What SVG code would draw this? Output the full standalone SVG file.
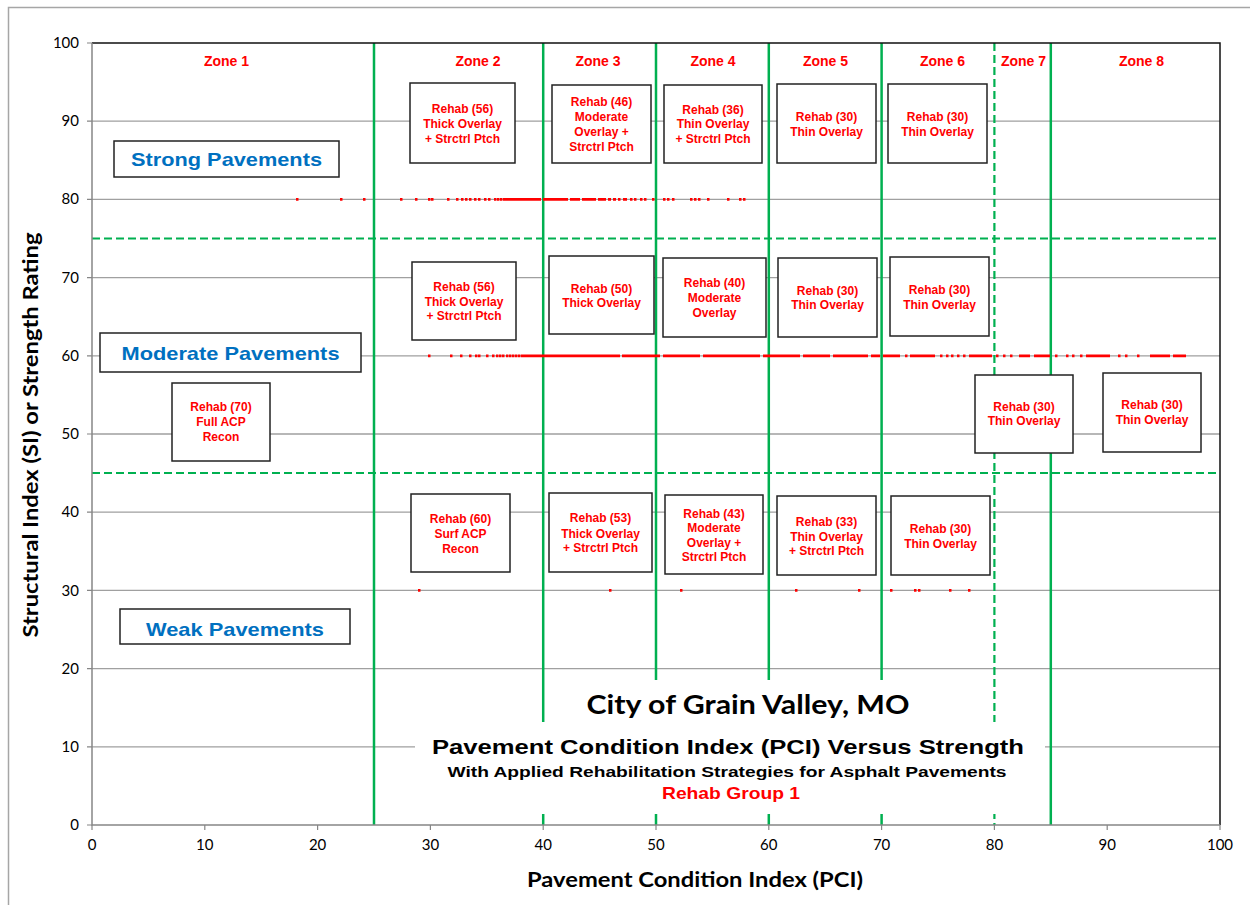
<svg xmlns="http://www.w3.org/2000/svg" width="1250" height="905" viewBox="0 0 1250 905">
<defs>
<style>
.grid{stroke:#A0A0A0;stroke-width:1.3;fill:none}
.zl{stroke:#00B050;stroke-width:2.5;fill:none}
.zd{stroke:#00B050;stroke-width:2.2;fill:none;stroke-dasharray:8 4}
.dots{stroke:#FF0000;stroke-width:2.8;fill:none}
.box{fill:#fff;stroke:#222;stroke-width:1.5}
.rt{font-family:"Liberation Sans",Arial,sans-serif;font-weight:bold;font-size:12px;fill:#FF0000;text-anchor:middle}
.zt{font-family:"Liberation Sans",Arial,sans-serif;font-weight:bold;font-size:14px;fill:#FF0000;text-anchor:middle}
.bt{font-family:"Liberation Sans",Arial,sans-serif;font-weight:bold;font-size:19px;fill:#0070C0;text-anchor:middle}
.tk{font-family:Lato,"Liberation Sans",sans-serif;font-size:15px;fill:#000}
.ax{font-family:Lato,"Liberation Sans",sans-serif;font-weight:bold;font-size:21px;fill:#000;text-anchor:middle}
.tt{font-family:"Liberation Sans",Arial,sans-serif;font-weight:bold;fill:#000;text-anchor:middle}
</style>
</defs>
<rect x="8.5" y="7.5" width="1260" height="920" fill="#fff" stroke="#A6A6A6" stroke-width="1.5"/>

<g id="gridlines">
<path class="grid" d="M92 121.2H1220M92 199.4H1220M92 277.6H1220M92 355.8H1220M92 434H1220M92 512.2H1220M92 590.4H1220M92 668.6H1220M92 746.8H1220"/>
</g>

<g id="connectors">
<path class="zl" d="M374 43V825M543.2 43V825M656 43V825M768.8 43V825M881.6 43V825M1050.8 43V825"/>
<path class="zd" d="M994.4 43V825"/>
<path class="zd" d="M92 238.5H1220M92 473H1220"/>
</g>

<g id="data">
<path class="dots" d="M296 199.4h2.5M340 199.4h2.5M363 199.4h2.5M400 199.4h2.5M415 199.4h2.5M428 199.4h2.5M431 199.4h2.5M447 199.4h2.5M456 199.4h2.5M461 199.4h2.5M465 199.4h2.5M469 199.4h2.5M474 199.4h2.5M478 199.4h2.5M484 199.4h2.5M488 199.4h2.5M494 199.4h2.5M497 199.4h2.5M500 199.4h2.5M503 199.4H541M543 199.4H568M570 199.4H580M582 199.4H596M598 199.4H606M608 199.4h3M613 199.4h3M618 199.4h2.5M623 199.4h4M630 199.4h2.5M634 199.4h2.5M640 199.4h2.5M644 199.4h2.5M652 199.4h2.5M663 199.4h2.5M667 199.4h2.5M672 199.4h2.5M690 199.4h2.5M694 199.4h2.5M698 199.4h2.5M707 199.4h2.5M727 199.4h2.5M739 199.4h2.5M743 199.4h2.5"/>
<path class="dots" d="M428 355.8h2.5M450 355.8h2.5M460 355.8h2.5M469 355.8h2.5M475 355.8h2.5M478 355.8h2.5M486 355.8h2.5M492 355.8h2.5M496 355.8h2.5M499 355.8h2.5M502 355.8h2.5M506 355.8h2.5M509 355.8h2.5M512 355.8h2.5M515 355.8h2.5M518 355.8h2.5M521 355.8H620M622 355.8H660M663 355.8H700M703 355.8H760M763 355.8H800M803 355.8H830M833 355.8H868M871 355.8H880M883 355.8H900M905 355.8h2.5M910 355.8H935M940 355.8h2.5M946 355.8h2.5M951 355.8h2.5M957 355.8h2.5M963 355.8h2.5M969 355.8H992M996 355.8h2.5M1003 355.8h2.5M1010 355.8h2.5M1019 355.8H1030M1034 355.8H1050M1055 355.8h2.5M1066 355.8h2.5M1072 355.8h2.5M1080 355.8h2.5M1086 355.8H1110M1118 355.8h2.5M1125 355.8h2.5M1137 355.8h2.5M1150 355.8H1170M1173 355.8H1186"/>
<path class="dots" d="M418 590.4h2.5M609 590.4h2.5M680 590.4h2.5M795 590.4h2.5M858 590.4h2.5M890 590.4h2.5M914 590.4h2.5M918 590.4h2.5M949 590.4h2.5M968 590.4h2.5"/>
</g>

<g id="axes">
<path d="M92 43H1220V825" fill="none" stroke="#111" stroke-width="1.5"/>
<path d="M92 43V825H1220" fill="none" stroke="#868686" stroke-width="1.5"/>
<path d="M87 43H92M87 121.2H92M87 199.4H92M87 277.6H92M87 355.8H92M87 434H92M87 512.2H92M87 590.4H92M87 668.6H92M87 746.8H92M87 825H92" stroke="#868686" stroke-width="1.2"/>
<path d="M92 825V830M204.8 825V830M317.6 825V830M430.4 825V830M543.2 825V830M656 825V830M768.8 825V830M881.6 825V830M994.4 825V830M1107.2 825V830M1220 825V830" stroke="#868686" stroke-width="1.2"/>
<g class="tk" text-anchor="end">
<text x="79" y="48">100</text><text x="79" y="126">90</text><text x="79" y="204">80</text><text x="79" y="283">70</text><text x="79" y="361">60</text><text x="79" y="439">50</text><text x="79" y="517">40</text><text x="79" y="596">30</text><text x="79" y="674">20</text><text x="79" y="752">10</text><text x="79" y="830">0</text>
</g>
<g class="tk" text-anchor="middle">
<text x="92" y="850">0</text><text x="204.8" y="850">10</text><text x="317.6" y="850">20</text><text x="430.4" y="850">30</text><text x="543.2" y="850">40</text><text x="656" y="850">50</text><text x="768.8" y="850">60</text><text x="881.6" y="850">70</text><text x="994.4" y="850">80</text><text x="1107.2" y="850">90</text><text x="1220" y="850">100</text>
</g>
<text class="ax" x="695" y="887" textLength="336" lengthAdjust="spacingAndGlyphs">Pavement Condition Index (PCI)</text>
<text class="ax" transform="translate(38 435) rotate(-90)" textLength="405" lengthAdjust="spacingAndGlyphs">Structural Index (SI) or Strength Rating</text>
</g>

<g id="zone-labels">
<text class="zt" x="226.5" y="66">Zone 1</text>
<text class="zt" x="478" y="66">Zone 2</text>
<text class="zt" x="598" y="66">Zone 3</text>
<text class="zt" x="713" y="66">Zone 4</text>
<text class="zt" x="825.5" y="66">Zone 5</text>
<text class="zt" x="942.5" y="66">Zone 6</text>
<text class="zt" x="1023.5" y="66">Zone 7</text>
<text class="zt" x="1141.5" y="66">Zone 8</text>
</g>

<g id="strong-pavements"><rect class="box" x="114" y="141" width="225" height="36"/><text class="bt" x="226.5" y="166" textLength="191" lengthAdjust="spacingAndGlyphs">Strong Pavements</text></g>
<g id="moderate-pavements"><rect class="box" x="100" y="333" width="261" height="39"/><text class="bt" x="230.5" y="360" textLength="218" lengthAdjust="spacingAndGlyphs">Moderate Pavements</text></g>
<g id="weak-pavements"><rect class="box" x="120" y="609" width="230" height="35"/><text class="bt" x="235" y="636" textLength="178" lengthAdjust="spacingAndGlyphs">Weak Pavements</text></g>

<g id="z2-strong"><rect class="box" x="410" y="83" width="105" height="80"/><text class="rt" x="462.5" y="113">Rehab (56)</text><text class="rt" x="462.5" y="128">Thick Overlay</text><text class="rt" x="462.5" y="143">+ Strctrl Ptch</text></g>
<g id="z3-strong"><rect class="box" x="552" y="85" width="99" height="78"/><text class="rt" x="601.5" y="106">Rehab (46)</text><text class="rt" x="601.5" y="121">Moderate</text><text class="rt" x="601.5" y="136">Overlay +</text><text class="rt" x="601.5" y="151">Strctrl Ptch</text></g>
<g id="z4-strong"><rect class="box" x="664" y="85" width="98" height="78"/><text class="rt" x="713" y="114">Rehab (36)</text><text class="rt" x="713" y="128">Thin Overlay</text><text class="rt" x="713" y="143">+ Strctrl Ptch</text></g>
<g id="z5-strong"><rect class="box" x="777" y="84" width="99" height="79"/><text class="rt" x="826.5" y="121">Rehab (30)</text><text class="rt" x="826.5" y="136">Thin Overlay</text></g>
<g id="z6-strong"><rect class="box" x="888" y="84" width="99" height="79"/><text class="rt" x="937.5" y="121">Rehab (30)</text><text class="rt" x="937.5" y="136">Thin Overlay</text></g>

<g id="z2-moderate"><rect class="box" x="412" y="262" width="104" height="78"/><text class="rt" x="464" y="291">Rehab (56)</text><text class="rt" x="464" y="306">Thick Overlay</text><text class="rt" x="464" y="320">+ Strctrl Ptch</text></g>
<g id="z3-moderate"><rect class="box" x="549" y="256" width="105" height="78"/><text class="rt" x="601.5" y="293">Rehab (50)</text><text class="rt" x="601.5" y="307">Thick Overlay</text></g>
<g id="z4-moderate"><rect class="box" x="663" y="258" width="103" height="79"/><text class="rt" x="714.5" y="287">Rehab (40)</text><text class="rt" x="714.5" y="302">Moderate</text><text class="rt" x="714.5" y="317">Overlay</text></g>
<g id="z5-moderate"><rect class="box" x="778" y="258" width="99" height="79"/><text class="rt" x="827.5" y="295">Rehab (30)</text><text class="rt" x="827.5" y="309">Thin Overlay</text></g>
<g id="z6-moderate"><rect class="box" x="890" y="257" width="99" height="79"/><text class="rt" x="939.5" y="294">Rehab (30)</text><text class="rt" x="939.5" y="309">Thin Overlay</text></g>
<g id="z7-moderate"><rect class="box" x="975" y="375" width="98" height="78"/><text class="rt" x="1024" y="411">Rehab (30)</text><text class="rt" x="1024" y="425">Thin Overlay</text></g>
<g id="z8-moderate"><rect class="box" x="1103" y="373" width="98" height="79"/><text class="rt" x="1152" y="409">Rehab (30)</text><text class="rt" x="1152" y="424">Thin Overlay</text></g>
<g id="z1-rehab"><rect class="box" x="172" y="383" width="98" height="78"/><text class="rt" x="221" y="411">Rehab (70)</text><text class="rt" x="221" y="426">Full ACP</text><text class="rt" x="221" y="441">Recon</text></g>

<g id="z2-weak"><rect class="box" x="411" y="494" width="99" height="78"/><text class="rt" x="460.5" y="523">Rehab (60)</text><text class="rt" x="460.5" y="538">Surf ACP</text><text class="rt" x="460.5" y="553">Recon</text></g>
<g id="z3-weak"><rect class="box" x="549" y="493" width="103" height="79"/><text class="rt" x="600.5" y="522">Rehab (53)</text><text class="rt" x="600.5" y="538">Thick Overlay</text><text class="rt" x="600.5" y="552">+ Strctrl Ptch</text></g>
<g id="z4-weak"><rect class="box" x="665" y="495" width="98" height="79"/><text class="rt" x="714" y="518">Rehab (43)</text><text class="rt" x="714" y="532">Moderate</text><text class="rt" x="714" y="547">Overlay +</text><text class="rt" x="714" y="561">Strctrl Ptch</text></g>
<g id="z5-weak"><rect class="box" x="777" y="496" width="99" height="79"/><text class="rt" x="826.5" y="526">Rehab (33)</text><text class="rt" x="826.5" y="541">Thin Overlay</text><text class="rt" x="826.5" y="555">+ Strctrl Ptch</text></g>
<g id="z6-weak"><rect class="box" x="891" y="496" width="99" height="79"/><text class="rt" x="940.5" y="533">Rehab (30)</text><text class="rt" x="940.5" y="548">Thin Overlay</text></g>

<g id="title">
<rect x="560" y="680" width="375" height="42" fill="#fff"/>
<rect x="415" y="722" width="630" height="92" fill="#fff"/>
<text class="tt" x="748" y="714" style="font-family:Lato,'Liberation Sans',sans-serif" font-size="27" textLength="323" lengthAdjust="spacingAndGlyphs">City of Grain Valley, MO</text>
<text class="tt" x="728" y="754" font-size="21" textLength="592" lengthAdjust="spacingAndGlyphs">Pavement Condition Index (PCI) Versus Strength</text>
<text class="tt" x="727" y="777" font-size="14" textLength="559" lengthAdjust="spacingAndGlyphs">With Applied Rehabilitation Strategies for Asphalt Pavements</text>
<text class="tt" x="731" y="799" font-size="17" style="fill:#FF0000" textLength="138" lengthAdjust="spacingAndGlyphs">Rehab Group 1</text>
</g>
</svg>
